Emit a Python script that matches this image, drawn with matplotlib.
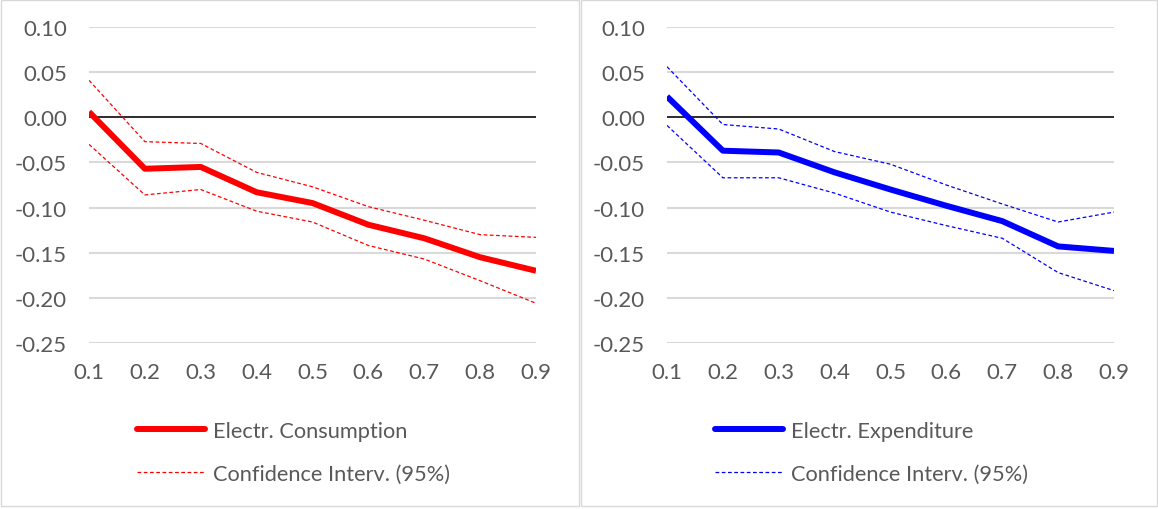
import numpy as np
import matplotlib.pyplot as plt
from matplotlib.lines import Line2D
from matplotlib.patches import Rectangle

plt.rcParams['font.family'] = ['Lato', 'DejaVu Sans']

deciles = [0.1, 0.2, 0.3, 0.4, 0.5, 0.6, 0.7, 0.8, 0.9]
tick_labels = ['0.1', '0.2', '0.3', '0.4', '0.5', '0.6', '0.7', '0.8', '0.9']
y_ticks = [-0.25, -0.20, -0.15, -0.10, -0.05, 0.00, 0.05, 0.10]

cons = [0.006, -0.057, -0.055, -0.083, -0.095, -0.119, -0.134, -0.155, -0.170]
cons_hi = [0.041, -0.027, -0.029, -0.061, -0.077, -0.099, -0.114, -0.130, -0.133]
cons_lo = [-0.030, -0.086, -0.080, -0.104, -0.116, -0.142, -0.157, -0.181, -0.206]

exp_ = [0.023, -0.037, -0.039, -0.061, -0.080, -0.098, -0.115, -0.143, -0.148]
exp_hi = [0.056, -0.008, -0.013, -0.038, -0.052, -0.075, -0.096, -0.116, -0.105]
exp_lo = [-0.009, -0.067, -0.067, -0.084, -0.105, -0.120, -0.134, -0.172, -0.192]

W, H = 1158, 510
txt = '#595959'
grid = '#d9d9d9'

fig = plt.figure(figsize=(W / 100, H / 100), dpi=100)

# panel frames
for x0, x1 in [(0.5, 579), (580.5, 1157)]:
    fig.patches.append(Rectangle((x0 / W, 3 / H), (x1 - x0) / W, (H - 3.5) / H,
                                 transform=fig.transFigure, fill=False,
                                 edgecolor=grid, lw=1.0))


def panel(left_px, main, hi, lo, color, label):
    ax = fig.add_axes([left_px / W, (H - 344) / H, 447 / W, 316 / H])
    ax.set_xlim(0.1, 0.9)
    ax.set_ylim(-0.25, 0.10)
    ax.set_yticks(y_ticks)
    ax.set_yticklabels([f'{v:.2f}' for v in y_ticks])
    ax.set_xticks(deciles)
    ax.set_xticklabels(tick_labels)
    for s in ax.spines.values():
        s.set_visible(False)
    ax.tick_params(length=0, labelsize=16, labelcolor=txt)
    ax.tick_params(axis='y', pad=16)
    ax.tick_params(axis='x', pad=14)
    ax.grid(axis='y', color=grid, lw=1.5)
    ax.set_axisbelow(True)
    ax.axhline(0, color='black', lw=1.1, zorder=2)
    ax.plot(deciles, hi, color=color, lw=0.9, ls=(0, (3, 2)), zorder=3)
    ax.plot(deciles, lo, color=color, lw=0.9, ls=(0, (3, 2)), zorder=3)
    ax.plot(deciles, main, color=color, lw=4.3, solid_capstyle='butt', zorder=4)
    handles = [Line2D([], [], color=color, lw=4.3, solid_capstyle='round'),
               Line2D([], [], color=color, lw=0.9, ls=(0, (3, 2)))]
    ax.legend(handles, [label, 'Confidence Interv. (95%)'],
              loc='center left',
              bbox_to_anchor=((left_px + 48) / W, (H - 453) / H),
              bbox_transform=fig.transFigure, frameon=False,
              fontsize=15.7, labelcolor=txt, handlelength=3.1,
              handletextpad=0.4, labelspacing=1.05,
              borderpad=0, borderaxespad=0)
    return ax


panel(89, cons, cons_hi, cons_lo, '#ff0000', 'Electr. Consumption')
panel(667, exp_, exp_hi, exp_lo, '#0000ff', 'Electr. Expenditure')

fig.savefig('out.png', dpi=100)
